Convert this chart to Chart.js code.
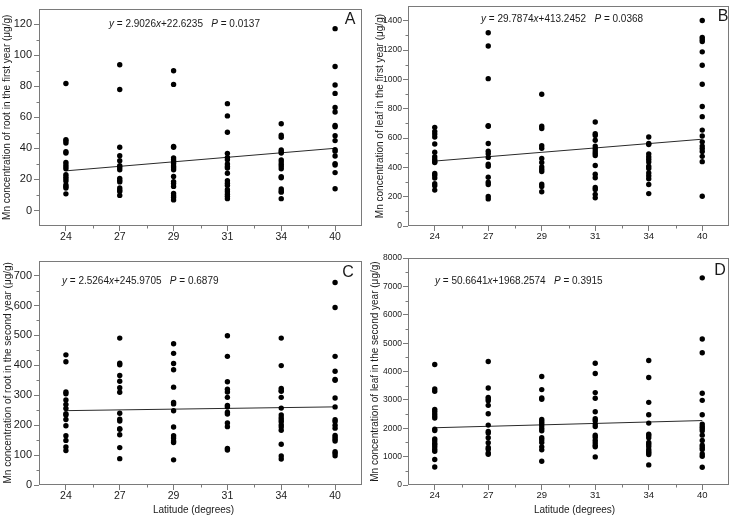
<!DOCTYPE html>
<html>
<head>
<meta charset="utf-8">
<title>Mn concentration vs latitude</title>
<script src="https://cdn.jsdelivr.net/npm/chart.js@4.4.1/dist/chart.umd.min.js"></script>
<style>
  html, body { margin: 0; padding: 0; background: #fff; }
  .panel { position: absolute; }
</style>
</head>
<body>
<div class="panel" style="left:0;top:0;width:366px;height:252px"><canvas id="chartA"></canvas></div>
<div class="panel" style="left:366px;top:0;width:367px;height:252px"><canvas id="chartB"></canvas></div>
<div class="panel" style="left:0;top:252px;width:366px;height:265px"><canvas id="chartC"></canvas></div>
<div class="panel" style="left:366px;top:252px;width:367px;height:265px"><canvas id="chartD"></canvas></div>

<script>
// sites (categories on the x axis, plotted at positions 1..6)
const latitudes = [24, 27, 29, 31, 34, 40];

// A: root, first year (one list per site)
const rootFirstYear = [
    [81.8, 45.6, 44.8, 43.4, 37.8, 37.0, 31.0, 29.5, 28.1, 26.8, 23.1, 21.7, 20.4, 19.0, 16.5, 15.5, 14.5, 10.7],
    [93.8, 77.9, 40.7, 35.3, 32.0, 28.9, 27.7, 26.2, 20.7, 19.4, 18.4, 14.5, 13.2, 12.2, 9.7],
    [90.0, 81.2, 41.3, 40.7, 33.9, 32.6, 31.4, 30.2, 28.7, 27.5, 26.2, 21.9, 18.6, 17.3, 15.5, 10.9, 9.5, 8.3, 6.8],
    [68.8, 60.9, 50.4, 36.8, 34.1, 32.6, 29.9, 28.3, 27.3, 24.0, 19.2, 17.6, 16.1, 13.4, 12.0, 10.5, 9.1, 7.6],
    [55.8, 48.5, 47.1, 39.0, 37.8, 37.0, 32.6, 31.2, 29.7, 28.3, 26.8, 21.7, 21.1, 13.8, 12.6, 11.8, 7.6],
    [117.1, 92.7, 80.8, 75.4, 66.3, 63.4, 54.7, 53.9, 48.1, 45.0, 39.2, 38.2, 35.1, 30.2, 29.3, 24.4, 14.0]
];
const rootFirstTicks = [0, 20, 40, 60, 80, 100, 120];
const rootFirstFit = [2.9026, 22.6235];   // slope, intercept
const rootFirstP = '0.0137';

// B: leaf, first year
const leafFirstYear = [
    [673, 645, 627, 607, 559, 503, 472, 455, 440, 433, 358, 347, 327, 289, 274, 245],
    [1318, 1228, 1005, 684, 680, 563, 510, 492, 468, 422, 408, 333, 298, 283, 201, 185],
    [899, 680, 665, 548, 530, 461, 433, 402, 386, 371, 285, 269, 234],
    [709, 629, 618, 585, 545, 528, 512, 497, 481, 413, 353, 329, 263, 249, 216, 192],
    [607, 563, 556, 492, 472, 455, 437, 408, 393, 362, 342, 322, 283, 221],
    [1402, 1287, 1272, 1259, 1188, 1097, 967, 815, 746, 654, 614, 574, 545, 528, 508, 475, 439, 203]
];
const leafFirstTicks = [0, 200, 400, 600, 800, 1000, 1200, 1400];
const leafFirstFit = [29.7874, 413.2452];
const leafFirstP = '0.0368';

// C: root, second year
const rootSecondYear = [
    [435, 412, 311, 305, 284, 269, 256, 238, 234, 219, 198, 165, 149, 127, 115],
    [491, 407, 402, 366, 347, 325, 310, 240, 220, 214, 188, 186, 168, 125, 88],
    [472, 440, 406, 385, 327, 276, 271, 248, 194, 165, 157, 147, 142, 84],
    [499, 430, 345, 320, 311, 293, 266, 261, 243, 237, 207, 195, 122, 117],
    [491, 399, 323, 316, 313, 293, 257, 234, 225, 217, 211, 201, 194, 183, 136, 97, 87],
    [677, 593, 430, 380, 353, 350, 291, 261, 218, 212, 200, 190, 166, 160, 153, 147, 111, 106, 98]
];
const rootSecondTicks = [0, 100, 200, 300, 400, 500, 600, 700];
const rootSecondFit = [2.5264, 245.9705];
const rootSecondP = '0.6879';

// D: leaf, second year
const leafSecondYear = [
    [4248, 3386, 3304, 2667, 2596, 2513, 2431, 2360, 1971, 1923, 1628, 1558, 1475, 1416, 1345, 1263, 1192, 897, 637],
    [4354, 3422, 3091, 3032, 2973, 2808, 2513, 2112, 1888, 1829, 1664, 1487, 1322, 1263, 1133, 1086],
    [3823, 3363, 3068, 3021, 2313, 2242, 2171, 2088, 1994, 1912, 1664, 1593, 1499, 1345, 1239, 838],
    [4295, 3929, 3257, 3056, 2584, 2336, 2265, 2148, 2065, 1758, 1687, 1581, 1487, 1404, 1345, 991],
    [4389, 3788, 2914, 2478, 2183, 1794, 1746, 1664, 1499, 1440, 1357, 1251, 1180, 1133, 1074, 708],
    [7304, 5145, 4661, 3233, 2985, 2478, 2148, 2065, 1994, 1912, 1758, 1569, 1404, 1322, 1251, 1097, 1015, 625]
];
const leafSecondTicks = [0, 1000, 2000, 3000, 4000, 5000, 6000, 7000, 8000];
const leafSecondFit = [50.6641, 1968.2574];
const leafSecondP = '0.3915';

const FONT = "'Liberation Sans', Arial, Helvetica, sans-serif";
const AXIS_GREY = '#7a7a7a';
const TEXT = '#1a1a1a';

// draws the box round the plot, the short minor ticks, equation, panel letter and x title
const framePlugin = {
    id: 'frame',
    afterDraw(chart, args, opts) {
        const { ctx, chartArea: a, scales } = chart;
        ctx.save();
        ctx.strokeStyle = AXIS_GREY;
        ctx.lineWidth = 1;
        const l = Math.round(a.left) + 0.5, t = Math.round(a.top) + 0.5;
        const r = Math.round(a.right) - 0.5, b = Math.round(a.bottom) - 0.5;
        ctx.strokeRect(l, t, r - l, b - t);

        // minor ticks halfway between major ones
        ctx.beginPath();
        const yt = opts.yTicks;
        for (let i = 0; i < yt.length; i++) {
            const next = i < yt.length - 1 ? yt[i + 1] : yt[i] + (yt[1] - yt[0]);
            const mid = (yt[i] + next) / 2;
            if (mid >= scales.y.max) continue;
            const py = Math.round(scales.y.getPixelForValue(mid)) + 0.5;
            ctx.moveTo(l, py);
            ctx.lineTo(l - 3, py);
        }
        for (let i = 1; i < latitudes.length; i++) {
            const px = Math.round(scales.x.getPixelForValue(i + 0.5)) + 0.5;
            ctx.moveTo(px, b);
            ctx.lineTo(px, b + 3);
        }
        ctx.stroke();

        // regression equation, italic y / x / P
        const fit = opts.fit;
        const parts = [
            ['y', true], [' = ' + fit[0].toFixed(4), false], ['x', true],
            ['+' + fit[1].toFixed(4) + '   ', false], ['P', true], [' = ' + opts.p, false]
        ];
        ctx.fillStyle = TEXT;
        ctx.textBaseline = 'middle';
        ctx.textAlign = 'left';
        let x = a.left + opts.eqX;
        const y = a.top + opts.eqY;
        parts.forEach(([s, it]) => {
            ctx.font = (it ? 'italic ' : '') + '10px ' + FONT;
            ctx.fillText(s, x, y);
            x += ctx.measureText(s).width;
        });

        ctx.font = '16px ' + FONT;
        ctx.textAlign = 'center';
        ctx.fillText(opts.letter, a.right - opts.letterDx, a.top + opts.letterDy);

        if (opts.xTitle) {
            ctx.font = '10px ' + FONT;
            ctx.fillText('Latitude (degrees)', (a.left + a.right) / 2 + opts.xTitleDx, chart.height - 7);
        }
        ctx.restore();
    }
};

function makeChart(id, cfg) {
    const datasets = cfg.values.map((vals, i) => ({
        data: vals.map(v => ({ x: i + 1, y: v })),
        pointRadius: 2.7,
        pointBackgroundColor: '#000',
        pointBorderWidth: 0,
        showLine: false
    }));
    const [slope, intercept] = cfg.fit;
    datasets.push({
        data: [1, latitudes.length].map(k => ({ x: k, y: slope * k + intercept })),
        showLine: true,
        borderColor: '#2a2a2a',
        borderWidth: 1,
        pointRadius: 0
    });

    new Chart(document.getElementById(id), {
        type: 'scatter',
        data: { datasets },
        options: {
            responsive: true,
            maintainAspectRatio: false,
            animation: false,
            events: [],
            layout: { padding: { left: 0, right: 4, top: cfg.top, bottom: 0 } },
            plugins: {
                legend: { display: false },
                tooltip: { enabled: false },
                frame: {
                    yTicks: cfg.yTicks, fit: cfg.fit, p: cfg.p, letter: cfg.letter,
                    eqX: cfg.eqX, eqY: cfg.eqY, letterDx: cfg.letterDx, letterDy: cfg.letterDy,
                    xTitle: cfg.xTitle, xTitleDx: cfg.xTitleDx
                }
            },
            scales: {
                x: {
                    type: 'linear',
                    min: 0.5,
                    max: latitudes.length + 0.5,
                    afterBuildTicks: s => { s.ticks = latitudes.map((_, i) => ({ value: i + 1 })); },
                    afterFit: s => { s.height = cfg.xHeight; },
                    grid: { drawOnChartArea: false, drawTicks: true, tickLength: 5, color: AXIS_GREY },
                    border: { display: false },
                    ticks: {
                        autoSkip: false, maxRotation: 0, padding: 0,
                        color: TEXT, font: { family: FONT, size: cfg.xTickSize },
                        callback: v => latitudes[v - 1]
                    }
                },
                y: {
                    type: 'linear',
                    min: cfg.yMin,
                    max: cfg.yMax,
                    afterBuildTicks: s => { s.ticks = cfg.yTicks.map(v => ({ value: v })); },
                    afterFit: s => { s.width = cfg.yWidth; },
                    grid: { drawOnChartArea: false, drawTicks: true, tickLength: 5, color: AXIS_GREY },
                    border: { display: false },
                    ticks: {
                        padding: cfg.yTickPad, color: TEXT, font: { family: FONT, size: cfg.yTickSize },
                        callback: v => String(v)
                    },
                    title: {
                        display: true, text: cfg.yTitle, color: TEXT,
                        font: { family: FONT, size: 10 }, padding: { top: cfg.yTitlePad, bottom: 0 }
                    }
                }
            }
        },
        plugins: [framePlugin]
    });
}

makeChart('chartA', {
    values: rootFirstYear, fit: rootFirstFit, p: rootFirstP, yTicks: rootFirstTicks,
    yMin: -10, yMax: 130, letter: 'A',
    yTitle: 'Mn concentration of root in the first year (μg/g)',
    xTitle: false, xTitleDx: 0, top: 1, xHeight: 26, yWidth: 39, yTitlePad: 1.5,
    yTickSize: 11, yTickPad: 2, xTickSize: 10.5,
    eqX: 70, eqY: 16, letterDx: 12, letterDy: 11
});
makeChart('chartB', {
    values: leafFirstYear, fit: leafFirstFit, p: leafFirstP, yTicks: leafFirstTicks,
    yMin: 0, yMax: 1500, letter: 'B',
    yTitle: 'Mn concentration of leaf in the first year (μg/g)',
    xTitle: false, xTitleDx: 0, top: 1, xHeight: 26, yWidth: 42, yTitlePad: 8,
    yTickSize: 8.5, yTickPad: 1, xTickSize: 9.5,
    eqX: 73, eqY: 13, letterDx: 6, letterDy: 10
});
makeChart('chartC', {
    values: rootSecondYear, fit: rootSecondFit, p: rootSecondP, yTicks: rootSecondTicks,
    yMin: 0, yMax: 750, letter: 'C',
    yTitle: 'Mn concentration of root in the second year (μg/g)',
    xTitle: true, xTitleDx: -7, top: 6, xHeight: 32, yWidth: 39, yTitlePad: 2.5,
    yTickSize: 11, yTickPad: 2, xTickSize: 10.5,
    eqX: 23, eqY: 21, letterDx: 14, letterDy: 12
});
makeChart('chartD', {
    values: leafSecondYear, fit: leafSecondFit, p: leafSecondP, yTicks: leafSecondTicks,
    yMin: 0, yMax: 8000, letter: 'D',
    yTitle: 'Mn concentration of leaf in the second year (μg/g)',
    xTitle: true, xTitleDx: 6, top: 6, xHeight: 32, yWidth: 42, yTitlePad: 3.5,
    yTickSize: 8.5, yTickPad: 1, xTickSize: 9.5,
    eqX: 27, eqY: 23, letterDx: 9, letterDy: 12
});
</script>
</body>
</html>
